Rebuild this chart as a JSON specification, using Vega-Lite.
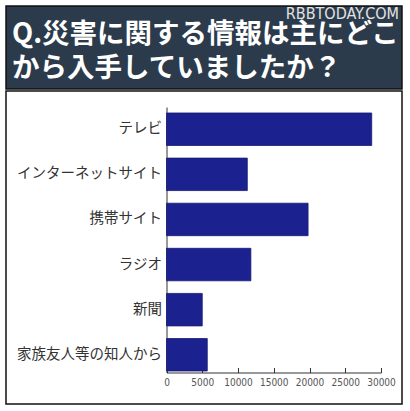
{
  "$schema": "https://vega.github.io/schema/vega-lite/v6.json",
  "background": "white",
  "padding": {"left": 5, "top": 5, "right": 9, "bottom": 10},
  "autosize": {"type": "pad"},
  "title": {
    "text": "RBBTODAY.COM",
    "anchor": "end",
    "frame": "group",
    "orient": "top",
    "offset": -17,
    "dx": -3,
    "fontSize": 16,
    "font": "DejaVu Sans Condensed, Liberation Sans, sans-serif",
    "fontWeight": "normal",
    "color": "#e2e2e2"
  },
  "datasets": {
    "sources": [
      {"source": "テレビ", "count": 28700},
      {"source": "インターネットサイト", "count": 11300},
      {"source": "携帯サイト", "count": 19800},
      {"source": "ラジオ", "count": 11800},
      {"source": "新聞", "count": 5000},
      {"source": "家族友人等の知人から", "count": 5700}
    ]
  },
  "spacing": 0,
  "vconcat": [
    {
      "width": 396,
      "height": 83,
      "data": {"name": "sources"},
      "mark": {"type": "text", "text": ""},
      "view": {"fill": "#2b3b4b", "stroke": "#111111", "strokeWidth": 1.5},
      "title": {
        "text": ["Q.災害に関する情報は主にどこ", "から入手していましたか？"],
        "anchor": "start",
        "frame": "group",
        "orient": "top",
        "offset": -76,
        "dx": 6,
        "fontSize": 27.5,
        "fontWeight": "bold",
        "font": "Noto Sans CJK JP",
        "color": "white",
        "lineHeight": 34
      }
    },
    {
      "width": 396,
      "height": 313,
      "data": {"name": "sources"},
      "mark": {"type": "bar", "color": "#1c2190", "stroke": "#151a70", "strokeWidth": 0.8},
      "encoding": {
        "y": {
          "field": "source",
          "type": "nominal",
          "sort": null,
          "scale": {"range": [16, 281.5], "paddingInner": 0.28, "paddingOuter": 0.083, "align": 0.8},
          "axis": {
            "title": null,
            "offset": -160.5,
            "ticks": false,
            "labelFontSize": 14.5,
            "labelFont": "Noto Sans CJK JP",
            "labelColor": "#333333",
            "labelPadding": 5,
            "domainColor": "#333333",
            "domainWidth": 1
          }
        },
        "x": {
          "field": "count",
          "type": "quantitative",
          "scale": {"domain": [0, 30000], "range": [160.5, 375], "nice": false},
          "axis": {
            "title": null,
            "offset": -31.5,
            "values": [0, 5000, 10000, 15000, 20000, 25000, 30000],
            "format": "d",
            "tickSize": -5,
            "grid": false,
            "labelOverlap": false,
            "labelFlush": false,
            "labelFontSize": 10,
            "labelColor": "#555555",
            "labelFont": "DejaVu Sans Condensed, Liberation Sans, sans-serif",
            "labelPadding": 10,
            "domainColor": "#333333",
            "tickColor": "#333333"
          }
        }
      },
      "view": {"stroke": "#111111", "strokeWidth": 1.5}
    }
  ]
}
